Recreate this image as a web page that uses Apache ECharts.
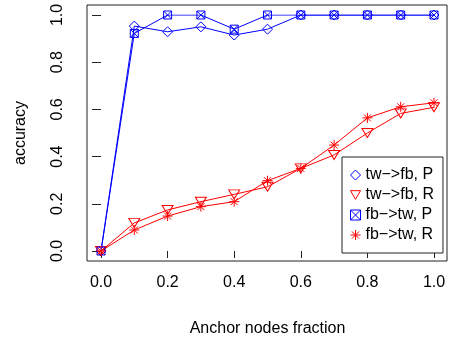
<!DOCTYPE html>
<html><head><meta charset="utf-8">
<script src="https://cdn.jsdelivr.net/npm/echarts@6/dist/echarts.min.js"></script>
<style>html,body{margin:0;padding:0;background:#fff}#c{width:451px;height:342px}</style>
</head><body><div id="c"></div>
<script>
const fractions = [0.0, 0.1, 0.2, 0.3, 0.4, 0.5, 0.6, 0.7, 0.8, 0.9, 1.0];
const twfbP = [0.0, 0.953, 0.929, 0.950, 0.915, 0.940, 1.0, 1.0, 1.0, 1.0, 1.0];
const twfbR = [0.0, 0.119, 0.174, 0.209, 0.240, 0.272, 0.350, 0.407, 0.500, 0.583, 0.609];
const fbtwP = [0.0, 0.922, 1.0, 1.0, 0.940, 1.0, 1.0, 1.0, 1.0, 1.0, 1.0];
const fbtwR = [0.0, 0.089, 0.148, 0.188, 0.209, 0.298, 0.350, 0.449, 0.564, 0.611, 0.628];
const seriesNames = ['tw\u2212>fb, P', 'tw\u2212>fb, R', 'fb\u2212>tw, P', 'fb\u2212>tw, R'];

const BLUE = '#0000ff', RED = '#ff0000';
const FONT = 'Liberation Sans, Arial, sans-serif';
const sym = {
  diamond: 'path://M5,0L10,5L5,10L0,5Z',
  triDown: 'path://M0,0L10,0L5,8.66Z',
  boxX: 'path://M0,0L10,0L10,10L0,10ZM0,0L10,10M10,0L0,10',
  star: 'path://M5,0L5,10M0,5L10,5M1.5,1.5L8.5,8.5M1.5,8.5L8.5,1.5'
};
const pair = a => fractions.map((x, i) => [x, a[i]]);
function mk(name, data, color, symbol, size) {
  return {
    name, type: 'line', data: pair(data), xAxisIndex: 0, yAxisIndex: 0,
    symbol, symbolSize: size, showSymbol: true,
    lineStyle: { color, width: 1 },
    itemStyle: { color: 'transparent', borderColor: color, borderWidth: 1 },
    emphasis: { disabled: true }, animation: false, z: 3
  };
}
const chart = echarts.init(document.getElementById('c'), null, { renderer: 'canvas' });
chart.setOption({
  animation: false,
  textStyle: { fontFamily: FONT },
  grid: [
    { left: 101, right: 17, top: 15, bottom: 91, show: false },
    { left: 87, right: 4, top: 5, bottom: 81, show: true, borderColor: '#222', borderWidth: 1, backgroundColor: 'transparent', z: 5 }
  ],
  xAxis: [
    { type: 'value', gridIndex: 0, min: 0, max: 1, interval: 0.2, offset: 10,
      axisLine: { show: false }, splitLine: { show: false },
      axisTick: { show: true, length: 7, lineStyle: { color: '#222' } },
      axisLabel: { color: '#000', fontSize: 16, margin: 14, formatter: v => v.toFixed(1) },
      name: 'Anchor nodes fraction', nameLocation: 'middle', nameGap: 60,
      nameTextStyle: { color: '#000', fontSize: 16 } },
    { type: 'value', gridIndex: 1, show: false, min: 0, max: 1 }
  ],
  yAxis: [
    { type: 'value', gridIndex: 0, min: 0, max: 1, interval: 0.2, offset: 14,
      axisLine: { show: false }, splitLine: { show: false },
      axisTick: { show: true, length: 9, lineStyle: { color: '#222' } },
      axisLabel: { color: '#000', fontSize: 16, margin: 21, rotate: 90, formatter: v => v.toFixed(1) },
      name: 'accuracy', nameLocation: 'middle', nameGap: 58,
      nameTextStyle: { color: '#000', fontSize: 16 } },
    { type: 'value', gridIndex: 1, show: false, min: 0, max: 1 }
  ],
  legend: {
    orient: 'vertical', left: 342, top: 157, padding: [10, 9, 10, 8],
    itemWidth: 10, itemHeight: 10, itemGap: 4,
    borderColor: '#222', borderWidth: 1, backgroundColor: '#fff',
    textStyle: { color: '#000', fontSize: 16, fontFamily: FONT },
    selectedMode: false,
    data: [
      { name: seriesNames[0], icon: sym.diamond, itemStyle: { color: 'transparent', borderColor: BLUE, borderWidth: 1 } },
      { name: seriesNames[1], icon: sym.triDown, itemStyle: { color: 'transparent', borderColor: RED, borderWidth: 1 } },
      { name: seriesNames[2], icon: sym.boxX, itemStyle: { color: 'transparent', borderColor: BLUE, borderWidth: 1 } },
      { name: seriesNames[3], icon: sym.star, itemStyle: { color: 'transparent', borderColor: RED, borderWidth: 1 } }
    ]
  },
  series: [
    mk(seriesNames[0], twfbP, BLUE, sym.diamond, [10, 10]),
    mk(seriesNames[1], twfbR, RED, sym.triDown, [11, 9]),
    mk(seriesNames[2], fbtwP, BLUE, sym.boxX, [8, 8]),
    mk(seriesNames[3], fbtwR, RED, sym.star, [10, 10])
  ]
});
</script></body></html>
